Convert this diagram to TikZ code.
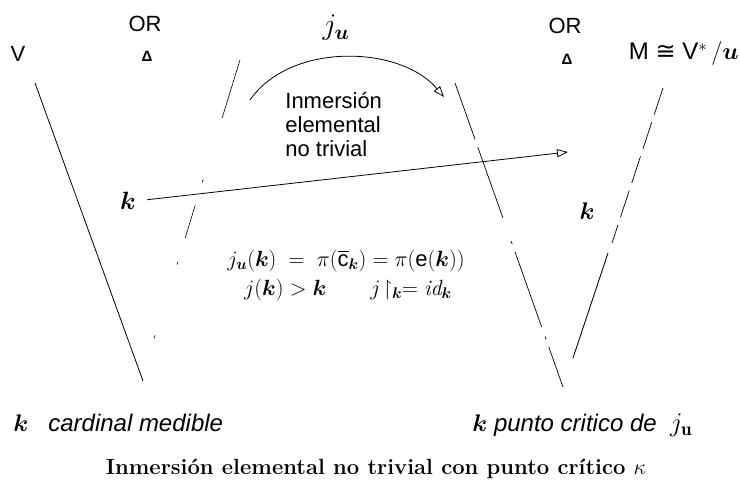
\RequirePackage{fix-cm}
\documentclass[tikz,border=0pt]{standalone}
\usepackage{amsmath,amssymb,bm}
\usepackage{fontspec}
\setsansfont{Liberation Sans}
\newfontfamily\symfont{DejaVu Sans}
\usetikzlibrary{arrows.meta}
\tikzset{
  sans/.style={font=\sffamily\fontsize{22}{24}\selectfont, inner sep=0pt},
  mth/.style={font=\fontsize{22}{24}\selectfont, inner sep=0pt},
  tri/.style={font=\sffamily\bfseries\fontsize{15}{15}\selectfont, inner sep=0pt},
  under/.style={font=\sffamily\fontsize{24}{26}\selectfont, inner sep=0pt, anchor=base west},
  caption/.style={font=\bfseries\fontsize{22}{24}\selectfont, inner sep=0pt},
  tip/.style={-{Triangle[open, length=11pt, width=8pt]}},
  faint/.style={line width=0.6pt, dash pattern=on 61pt off 64pt on 3pt off 24pt on 34pt off 25pt on 3pt off 74pt on 3pt off 50pt},
  broken/.style={line width=0.7pt, dash pattern=on 60pt off 8pt on 75pt off 25pt on 3pt off 8pt on 80pt off 10pt on 3pt off 8pt},
  broken2/.style={line width=0.7pt, dash pattern=on 28pt off 8pt}
}
\begin{document}
\begin{tikzpicture}[x=1pt, y=-1pt, line width=0.8pt]
\useasboundingbox (0,0) rectangle (740,487);
\node[sans] (v) at (18,54) {V};
\node[sans] (orl) at (145,24) {OR};
\node[tri] (tl) at (147,56) {Δ};
\node[sans] (orr) at (565,26) {OR};
\node[tri] (tr) at (567,59) {Δ};
\node[sans, font=\sffamily\fontsize{24}{26}\selectfont, anchor=east] (m) at (739,54) {M {\symfont ≅} V$^{\ast}$\,$/\bm{u}$};
\node[mth, font=\fontsize{30}{30}\selectfont] (ju) at (336,28) {$j_{\bm{u}}$};
\node[sans, align=left, anchor=north west] (inm) at (285,92) {Inmersión\\elemental\\no trivial};
\node[mth, font=\fontsize{25}{25}\selectfont] (kl) at (128,201) {$\bm{k}$};
\node[mth, font=\fontsize{24}{24}\selectfont] (kr) at (587,211) {$\bm{k}$};
\node[mth] (eq1) at (346,261) {$j_{\bm{u}}(\bm{k}) \;=\; \pi(\overline{\mathsf{c}}_{\bm{k}}) = \pi(\mathsf{e}(\bm{k}))$};
\node[mth] (eq2) at (348,290) {$j(\bm{k}) > \bm{k} \qquad j\!\restriction_{\bm{k}} = \mathit{id}_{\bm{k}}$};
\node[under] (card) at (13,431) {$\bm{k}$\hspace{20pt}\textit{cardinal medible}};
\node[under] (crit) at (472,431) {$\bm{k}$\ \textit{punto critico de}\ \ {\fontsize{27}{27}\selectfont$j_{\mathbf{u}}$}};
\node[caption] (capt) at (376,469) {Inmersión elemental no trivial con punto crítico $\kappa$};
\coordinate (a1) at (250,100);
\coordinate (a2) at (444,97);
\coordinate (kt) at (568,152);
\draw[tip] (a1) .. controls (290,42) and (400,45) .. (a2);
\draw[tip, shorten <=11pt] (kl.east) -- (kt);
\draw (35,83) -- (143,381);
\draw[faint] (240,60) -- (150,352);
\draw[broken] (455,83) -- (563,387);
\draw[broken2] (663,88) -- (612,243);
\draw (608,253) -- (573,358);
\end{tikzpicture}
\end{document}
